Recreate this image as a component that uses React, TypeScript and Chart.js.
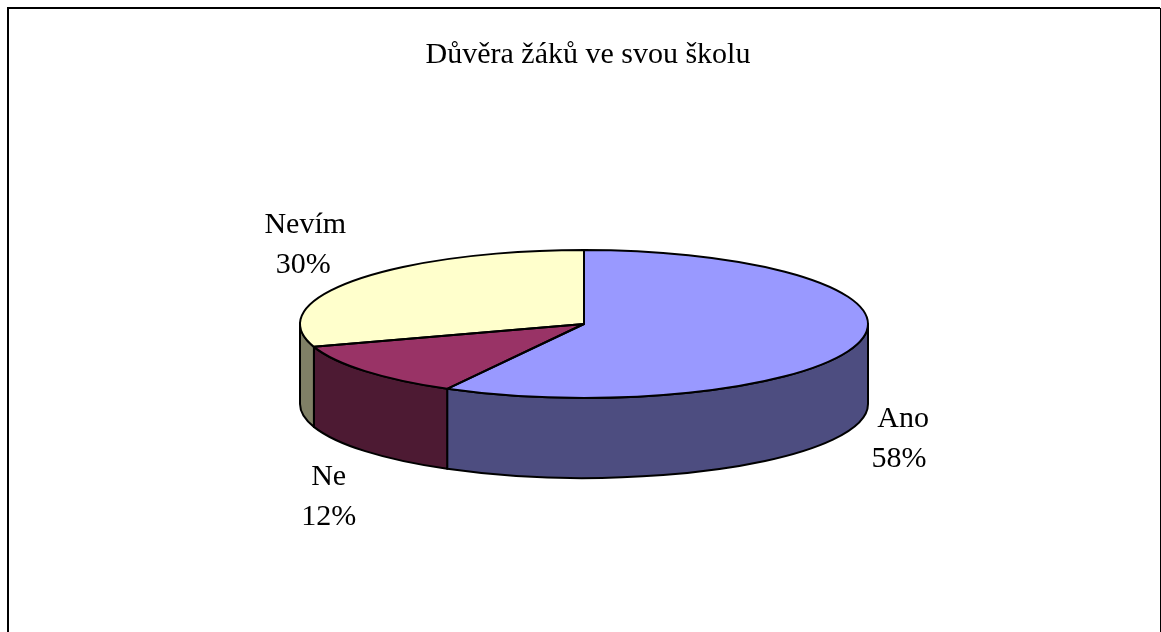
import React, { useEffect, useRef } from "react";
import { Chart, registerables } from "chart.js";

Chart.register(...registerables);

const titleText = "Důvěra žáků ve svou školu";
const categories = ["Ano", "Ne", "Nevím"];
const values = [58, 12, 30];
const topColors = ["#9999FF", "#993366", "#FFFFCC"];
const sideColors = ["#4D4D80", "#4D1A33", "#808066"];
const labelOffsets = [[42, 97], [-34, 126], [-50, -35]];
const lineNudges = [[2, -2], [-2.5, -2.5], [1, -1]];

const RADIUS = 284;
const SQUASH = 74 / 284;
const DEPTH = 80;
const PIE_SHIFT = -4;
const FONT = "30px 'Liberation Serif'";

const pie3d = {
  id: "pie3d",
  afterDatasetsUpdate(chart: any) {
    chart.getDatasetMeta(0).data.forEach((arc: any) => {
      arc.x += PIE_SHIFT;
    });
  },
  beforeDraw(chart: any) {
    const { ctx, width } = chart;
    ctx.save();
    ctx.fillStyle = "#FFFFFF";
    ctx.fillRect(0, 0, width, chart.height);
    ctx.strokeStyle = "#000000";
    ctx.lineWidth = 2;
    ctx.beginPath();
    ctx.moveTo(8, chart.height);
    ctx.lineTo(8, 8);
    ctx.lineTo(width - 1, 8);
    ctx.stroke();
    ctx.lineWidth = 1;
    ctx.beginPath();
    ctx.moveTo(width - 0.5, 8);
    ctx.lineTo(width - 0.5, chart.height);
    ctx.stroke();
    ctx.restore();
  },
  beforeDatasetDraw(chart: any, args: any) {
    const { ctx } = chart;
    const arcs = chart.getDatasetMeta(args.index).data;
    ctx.save();
    ctx.lineWidth = 2;
    ctx.strokeStyle = "#000000";
    ctx.lineJoin = "round";
    arcs.forEach((arc: any, i: number) => {
      const a0 = Math.max(arc.startAngle, 0);
      const a1 = Math.min(arc.endAngle, Math.PI);
      if (a1 <= a0) return;
      const ry = arc.outerRadius * SQUASH;
      ctx.beginPath();
      ctx.ellipse(arc.x, arc.y, arc.outerRadius, ry, 0, a0, a1);
      ctx.ellipse(arc.x, arc.y + DEPTH, arc.outerRadius, ry, 0, a1, a0, true);
      ctx.closePath();
      ctx.fillStyle = sideColors[i];
      ctx.fill();
      ctx.stroke();
    });
    ctx.restore();
    const first = arcs[0];
    ctx.save();
    ctx.translate(0, first.y);
    ctx.scale(1, SQUASH);
    ctx.translate(0, -first.y);
  },
  afterDatasetDraw(chart: any, args: any) {
    const { ctx } = chart;
    ctx.restore();
    const arcs = chart.getDatasetMeta(args.index).data;
    ctx.save();
    ctx.lineWidth = 2;
    ctx.strokeStyle = "#000000";
    ctx.lineJoin = "round";
    arcs.forEach((arc: any) => {
      const ry = arc.outerRadius * SQUASH;
      ctx.beginPath();
      ctx.moveTo(arc.x, arc.y);
      ctx.ellipse(arc.x, arc.y, arc.outerRadius, ry, 0, arc.startAngle, arc.endAngle);
      ctx.closePath();
      ctx.stroke();
    });
    ctx.fillStyle = "#000000";
    ctx.font = FONT;
    ctx.textAlign = "center";
    ctx.textBaseline = "middle";
    const total = values.reduce((a, b) => a + b, 0);
    arcs.forEach((arc: any, i: number) => {
      const mid = (arc.startAngle + arc.endAngle) / 2;
      const ry = arc.outerRadius * SQUASH;
      const x = arc.x + Math.cos(mid) * arc.outerRadius + labelOffsets[i][0];
      const y = arc.y + Math.sin(mid) * ry + labelOffsets[i][1];
      ctx.fillText(categories[i], x + lineNudges[i][0], y - 20);
      ctx.fillText(`${Math.round((values[i] / total) * 100)}%`, x + lineNudges[i][1], y + 20);
    });
    ctx.restore();
  },
};

export default function App() {
  const ref = useRef<HTMLCanvasElement>(null);
  useEffect(() => {
    const canvas = ref.current!;
    const chart = new Chart(canvas, {
      type: "pie",
      data: {
        labels: categories,
        datasets: [
          {
            data: values,
            backgroundColor: topColors,
            borderWidth: 0,
            radius: RADIUS,
            clip: false,
          } as any,
        ],
      },
      options: {
        animation: false,
        responsive: false,
        events: [],
        layout: { padding: { left: 15, right: 0, top: 37, bottom: 57 } },
        plugins: {
          legend: { display: false },
          tooltip: { enabled: false },
          title: {
            display: true,
            text: titleText,
            color: "#000000",
            font: { family: "'Liberation Serif'", size: 30, weight: "normal" },
            padding: { top: 0, bottom: 0 },
          },
        },
      },
      plugins: [pie3d],
    });
    return () => chart.destroy();
  }, []);
  return (
    <canvas
      ref={ref}
      width={1161}
      height={632}
      style={{ position: "fixed", left: 0, top: 0, width: 1161, height: 632, display: "block" }}
    />
  );
}
